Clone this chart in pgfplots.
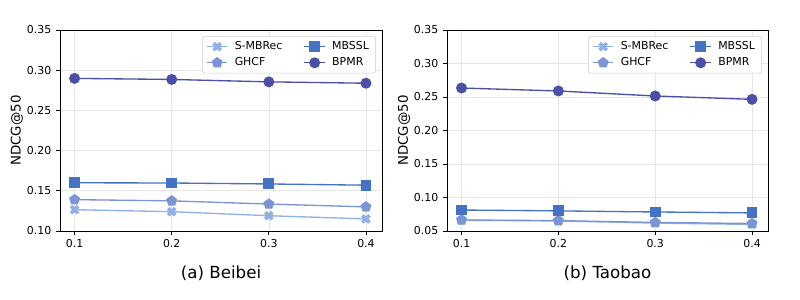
\documentclass[border=0pt]{standalone}
\usepackage{pgfplots}
\pgfplotsset{compat=1.18}
\usepackage{fontspec}
\setmainfont{DejaVu Sans}
\usetikzlibrary{plotmarks}
\definecolor{csm}{HTML}{8FB1E3}
\definecolor{cgh}{HTML}{7B94D3}
\definecolor{cmb}{HTML}{4472C4}
\definecolor{cbp}{HTML}{4B4FA6}
\definecolor{gridc}{HTML}{E6E6E6}
\pgfdeclareplotmark{Xf}{%
  \pgfpathmoveto{\pgfqpoint{0pt}{0.566\pgfplotmarksize}}%
  \pgfpathlineto{\pgfqpoint{0.495\pgfplotmarksize}{1.061\pgfplotmarksize}}%
  \pgfpathlineto{\pgfqpoint{1.061\pgfplotmarksize}{0.495\pgfplotmarksize}}%
  \pgfpathlineto{\pgfqpoint{0.566\pgfplotmarksize}{0pt}}%
  \pgfpathlineto{\pgfqpoint{1.061\pgfplotmarksize}{-0.495\pgfplotmarksize}}%
  \pgfpathlineto{\pgfqpoint{0.495\pgfplotmarksize}{-1.061\pgfplotmarksize}}%
  \pgfpathlineto{\pgfqpoint{0pt}{-0.566\pgfplotmarksize}}%
  \pgfpathlineto{\pgfqpoint{-0.495\pgfplotmarksize}{-1.061\pgfplotmarksize}}%
  \pgfpathlineto{\pgfqpoint{-1.061\pgfplotmarksize}{-0.495\pgfplotmarksize}}%
  \pgfpathlineto{\pgfqpoint{-0.566\pgfplotmarksize}{0pt}}%
  \pgfpathlineto{\pgfqpoint{-1.061\pgfplotmarksize}{0.495\pgfplotmarksize}}%
  \pgfpathlineto{\pgfqpoint{-0.495\pgfplotmarksize}{1.061\pgfplotmarksize}}%
  \pgfpathclose
  \pgfusepathqfill
}
\pgfplotsset{
  myax/.style={
    scale only axis, width=241.5pt, height=150.75pt,
    clip=false,
    xmin=0.085, xmax=0.4165,
    xtick={0.1,0.2,0.3,0.4},
    /pgf/number format/assume math mode=true,
    xticklabel style={font=\fontsize{8.2}{9}\selectfont,/pgf/number format/.cd,fixed,fixed zerofill,precision=1},
    yticklabel style={font=\fontsize{8.2}{9}\selectfont,/pgf/number format/.cd,fixed,fixed zerofill,precision=2},
    scaled y ticks=false,
    tick align=outside, xtick pos=bottom, ytick pos=left,
    major tick length=3pt,
    tick style={black, line width=0.6pt},
    axis line style={black, line width=0.6pt},
    grid=major, grid style={gridc, line width=0.5pt},
    ylabel={NDCG@50},
    ylabel style={font=\fontsize{10}{12}\selectfont, anchor=center, at={(axis description cs:-0.134,0.5)}},
    legend columns=2, transpose legend,
    legend cell align=left,
    legend image code/.code={\draw[mark repeat=2,mark phase=2] plot coordinates {(0cm,0cm) (0.27cm,0cm) (0.54cm,0cm)};},
    legend style={at={(0.981,0.97)}, anchor=north east, font=\fontsize{8.2}{9.5}\selectfont,
      draw=black!20, rounded corners=2pt, fill=white,
      inner xsep=3pt, inner ysep=2pt, row sep=0.5pt,
      /tikz/every odd column/.append style={column sep=3pt},
      /tikz/every even column/.append style={column sep=14pt}},
  },
  sm/.style={color=csm, line width=1pt, mark=Xf, mark size=3.4pt},
  gh/.style={color=cgh, line width=1pt, mark=pentagon*, mark size=3.7pt},
  mb/.style={color=cmb, line width=1pt, mark=square*, mark size=3.6pt},
  bp/.style={color=cbp, line width=1pt, mark=*, mark size=3.6pt},
}
\begin{document}
\begin{tikzpicture}
\useasboundingbox (0,0) rectangle (600pt,225pt);
\begin{axis}[myax, at={(45pt,51.75pt)}, anchor=south west,
  ymin=0.10, ymax=0.35, ytick={0.10,0.15,0.20,0.25,0.30,0.35}]
\addplot[sm] coordinates {(0.1,0.1265) (0.2,0.1240) (0.3,0.1190) (0.4,0.1150)};
\addlegendentry{S-MBRec}
\addplot[gh] coordinates {(0.1,0.1390) (0.2,0.1375) (0.3,0.1335) (0.4,0.1300)};
\addlegendentry{GHCF}
\addplot[mb] coordinates {(0.1,0.1600) (0.2,0.1597) (0.3,0.1585) (0.4,0.1570)};
\addlegendentry{MBSSL}
\addplot[bp] coordinates {(0.1,0.2898) (0.2,0.2885) (0.3,0.2855) (0.4,0.2838)};
\addlegendentry{BPMR}
\node[font=\fontsize{12.5}{14}\selectfont] at (axis description cs:0.5,-0.209) {(a) Beibei};
\end{axis}
\begin{axis}[myax, at={(335.25pt,51.75pt)}, anchor=south west, width=240.75pt,
  ymin=0.05, ymax=0.35, ytick={0.05,0.10,0.15,0.20,0.25,0.30,0.35}]
\addplot[sm] coordinates {(0.1,0.0660) (0.2,0.0650) (0.3,0.0618) (0.4,0.0598)};
\addlegendentry{S-MBRec}
\addplot[gh] coordinates {(0.1,0.0665) (0.2,0.0655) (0.3,0.0628) (0.4,0.0612)};
\addlegendentry{GHCF}
\addplot[mb] coordinates {(0.1,0.0813) (0.2,0.0800) (0.3,0.0784) (0.4,0.0770)};
\addlegendentry{MBSSL}
\addplot[bp] coordinates {(0.1,0.2634) (0.2,0.2590) (0.3,0.2515) (0.4,0.2465)};
\addlegendentry{BPMR}
\node[font=\fontsize{12.5}{14}\selectfont] at (axis description cs:0.5,-0.209) {(b) Taobao};
\end{axis}
\end{tikzpicture}
\end{document}
